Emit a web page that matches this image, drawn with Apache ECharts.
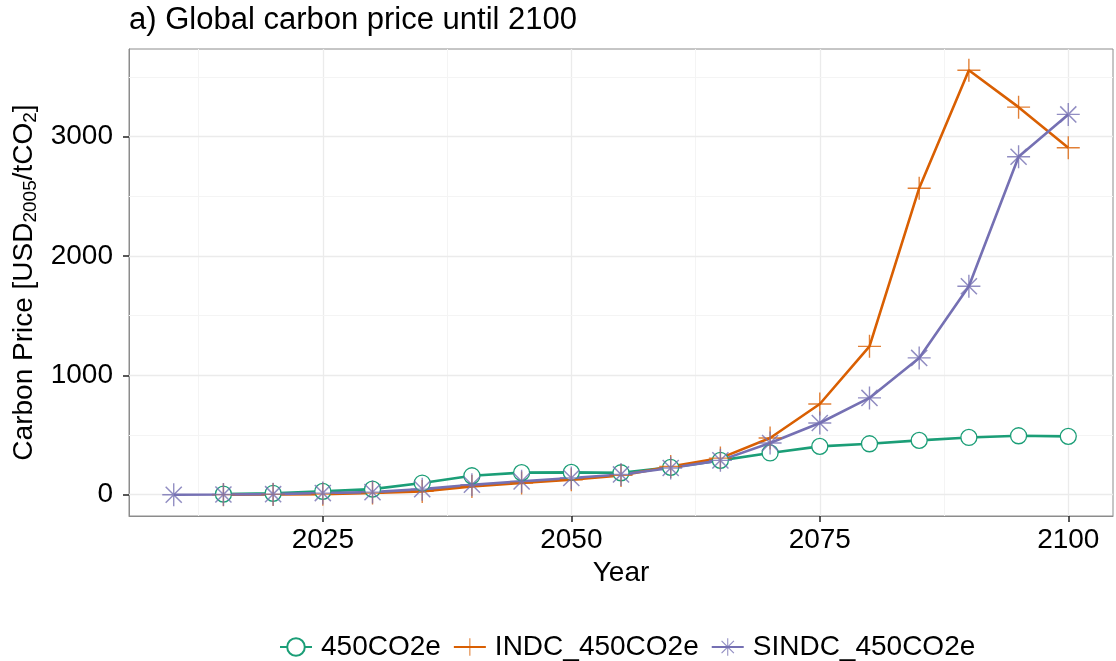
<!DOCTYPE html>
<html>
<head>
<meta charset="utf-8">
<script src="https://cdn.jsdelivr.net/npm/echarts@6/dist/echarts.min.js"></script>
<style>
  html, body { margin: 0; padding: 0; background: #fff; }
  #chart { width: 1116px; height: 661px; }
</style>
</head>
<body>
<div id="chart"></div>
<script>
// years on the x axis, 5-year steps
const years = [2010, 2015, 2020, 2025, 2030, 2035, 2040, 2045, 2050, 2055,
               2060, 2065, 2070, 2075, 2080, 2085, 2090, 2095, 2100];

// carbon price, USD2005/tCO2
const price450 = [null, 5, 12, 28, 47, 98, 159, 185, 187, 184,
                  229, 288, 350, 405, 427, 455, 480, 494, 489];
const priceINDC = [null, 1, 3, 5, 14, 28, 70, 98, 126, 162,
                   237, 307, 475, 760, 1243, 2567, 3555, 3246, 2906];
const priceSINDC = [0, 2, 5, 14, 22, 47, 84, 112, 140, 170,
                    224, 288, 433, 601, 811, 1146, 1746, 2831, 3185];

const xTicks = [2025, 2050, 2075, 2100];
const xMinor = [2012.5, 2037.5, 2062.5, 2087.5];
const yTicks = [0, 1000, 2000, 3000];
const yMinor = [500, 1500, 2500, 3500];

const seriesNames = ['450CO2e', 'INDC_450CO2e', 'SINDC_450CO2e'];
const colors = ['#1b9e77', '#d95f02', '#7570b3'];

const FONT = '"Liberation Sans", Arial, sans-serif';

// thin filled bar between two points, used to build + and * markers
const bar = (x1, y1, x2, y2, w) => {
  const dx = x2 - x1, dy = y2 - y1, len = Math.hypot(dx, dy);
  const nx = (-dy / len) * w / 2, ny = (dx / len) * w / 2;
  const f = (v) => v.toFixed(2);
  return 'M' + f(x1 + nx) + ',' + f(y1 + ny) + 'L' + f(x2 + nx) + ',' + f(y2 + ny) +
         'L' + f(x2 - nx) + ',' + f(y2 - ny) + 'L' + f(x1 - nx) + ',' + f(y1 - ny) + 'Z';
};
const plusPath = bar(0, 50, 100, 50, 6) + bar(50, 0, 50, 100, 6);
const starPath = plusPath + bar(15, 15, 85, 85, 6.5) + bar(15, 85, 85, 15, 6.5);

const toPairs = (vals) => years.map((y, i) => [y, vals[i] === null ? '-' : vals[i]]);

const gridLines = [
  ...xTicks.map((v) => ({ xAxis: v, lineStyle: { color: '#ebebeb', width: 1.3 } })),
  ...xMinor.map((v) => ({ xAxis: v, lineStyle: { color: '#f4f4f4', width: 1 } })),
  ...yTicks.map((v) => ({ yAxis: v, lineStyle: { color: '#ebebeb', width: 1.3 } })),
  ...yMinor.map((v) => ({ yAxis: v, lineStyle: { color: '#f4f4f4', width: 1 } })),
];

const chart = echarts.init(document.getElementById('chart'));

chart.setOption({
  animation: false,
  textStyle: { fontFamily: FONT },
  title: {
    text: 'a) Global carbon price until 2100',
    left: 129,
    top: 5,
    padding: 0,
    textStyle: { fontFamily: FONT, fontSize: 31, fontWeight: 'normal', color: '#000' },
  },
  legend: {
    data: seriesNames,
    left: 274,
    top: 628,
    itemWidth: 32,
    itemHeight: 22,
    itemGap: 12,
    textStyle: { fontFamily: FONT, fontSize: 28, color: '#000', padding: [0, 0, 0, 4] },
  },
  grid: {
    left: 129,
    right: 3,
    top: 49,
    bottom: 145,
    outerBoundsMode: 'none',
    containLabel: false,
    show: true,
    borderColor: '#8c8c8c',
    borderWidth: 1,
    backgroundColor: 'transparent',
  },
  xAxis: {
    type: 'value',
    min: 2005.5,
    max: 2104.5,
    name: 'Year',
    nameLocation: 'middle',
    nameGap: 42,
    nameTextStyle: { fontFamily: FONT, fontSize: 28, color: '#000' },
    axisLine: { show: true, onZero: false, lineStyle: { color: '#8c8c8c', width: 1 } },
    splitLine: { show: false },
    axisTick: { show: true, inside: false, customValues: xTicks, length: 6, lineStyle: { color: '#222', width: 1.5 } },
    axisLabel: {
      customValues: xTicks, fontSize: 28, color: '#000', margin: 10, fontFamily: FONT,
      formatter: (v) => String(v),
    },
  },
  yAxis: {
    type: 'value',
    min: -178,
    max: 3733,
    name: '{a|Carbon Price [USD}{s|2005}{a|/tCO}{s|2}{a|]}',
    nameLocation: 'middle',
    nameRotate: 90,
    nameGap: 88,
    nameTextStyle: {
      fontFamily: FONT,
      color: '#000',
      rich: {
        a: { fontFamily: FONT, fontSize: 28, lineHeight: 32, color: '#000' },
        s: { fontFamily: FONT, fontSize: 19, lineHeight: 19, verticalAlign: 'bottom', color: '#000' },
      },
    },
    axisLine: { show: true, onZero: false, lineStyle: { color: '#8c8c8c', width: 1 } },
    splitLine: { show: false },
    axisTick: { show: true, inside: false, customValues: yTicks, length: 6, lineStyle: { color: '#222', width: 1.5 } },
    axisLabel: {
      customValues: yTicks, fontSize: 28, color: '#000', margin: 16, fontFamily: FONT,
      formatter: (v) => String(v),
    },
  },
  series: [
    {
      name: seriesNames[0],
      type: 'line',
      data: toPairs(price450),
      symbol: 'circle',
      symbolSize: 16,
      lineStyle: { color: colors[0], width: 2.6 },
      itemStyle: { color: '#fff', borderColor: colors[0], borderWidth: 1.3 },
      markLine: {
        silent: true,
        z: 1,
        symbol: ['none', 'none'],
        label: { show: false },
        emphasis: { disabled: true },
        animation: false,
        lineStyle: { type: 'solid' },
        data: gridLines,
      },
    },
    {
      name: seriesNames[1],
      type: 'line',
      data: toPairs(priceINDC),
      symbol: 'path://' + plusPath,
      symbolSize: 23,
      lineStyle: { color: colors[1], width: 2.6 },
      itemStyle: { color: colors[1], opacity: 0.8 },
    },
    {
      name: seriesNames[2],
      type: 'line',
      data: toPairs(priceSINDC),
      symbol: 'path://' + starPath,
      symbolSize: 23,
      lineStyle: { color: colors[2], width: 2.6 },
      itemStyle: { color: colors[2], opacity: 0.8 },
    },
  ],
});
</script>
</body>
</html>
